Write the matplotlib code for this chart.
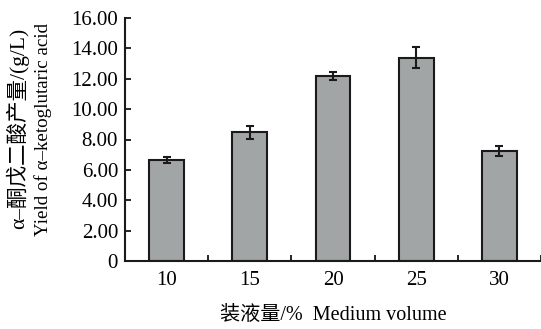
import matplotlib
matplotlib.use("Agg")
import matplotlib.pyplot as plt
import numpy as np

categories = ["10", "15", "20", "25", "30"]
values = [6.65, 8.47, 12.16, 13.39, 7.24]
errors = [0.20, 0.45, 0.26, 0.70, 0.35]
yticks = [0, 2, 4, 6, 8, 10, 12, 14, 16]
ytick_labels = ["0", "2.00", "4.00", "6.00", "8.00", "10.00", "12.00", "14.00", "16.00"]

fam = ["Liberation Serif", "Noto Sans CJK SC"]
plt.rcParams["font.family"] = fam

fig = plt.figure(figsize=(5.41, 3.29), dpi=100)
ax = fig.add_axes([125/541, 1-261/329, 1-125/541, (261-18)/329])

x = np.arange(len(categories))
ax.bar(x, values, width=0.42, color="#a2a5a5", edgecolor="#1a1a1a", linewidth=1.5, zorder=2)
ax.errorbar(x, values, yerr=errors, fmt="none", ecolor="#1a1a1a", elinewidth=1.5,
            capsize=3, capthick=1.5, zorder=3)

ax.set_xlim(-0.5, len(categories) - 0.5)
ax.set_ylim(0, 16)
ax.set_yticks(yticks)
ax.set_yticklabels(ytick_labels)
ax.set_xticks(np.arange(len(categories) + 1) - 0.5)
ax.set_xticklabels([""] * (len(categories) + 1))
ax.set_xticks(x, minor=True)
ax.set_xticklabels(categories, minor=True)
ax.tick_params(axis="x", which="minor", length=0, pad=7, labelsize=15)
ax.tick_params(axis="x", which="major", direction="in", length=4, width=1.2)
ax.tick_params(axis="y", direction="in", length=4, width=1.2, labelsize=15, pad=5)
for s in ["top", "right"]:
    ax.spines[s].set_visible(False)
for s in ["left", "bottom"]:
    ax.spines[s].set_linewidth(1.5)
    ax.spines[s].set_color("#1a1a1a")

fig.text(333/541, 1-315/329, "装液量/%  Medium volume", ha="center", va="center", fontsize=14.5, family=fam)
fig.text(18/541, 1-128/329, "α–酮戊二酸产量/(g/L)", rotation=90, ha="center", va="center", fontsize=15.5, family=fam)
fig.text(43/541, 1-129/329, "Yield of α–ketoglutaric acid", rotation=90, ha="center", va="center", fontsize=13.7, family=fam)

fig.savefig("out.png", dpi=100)
